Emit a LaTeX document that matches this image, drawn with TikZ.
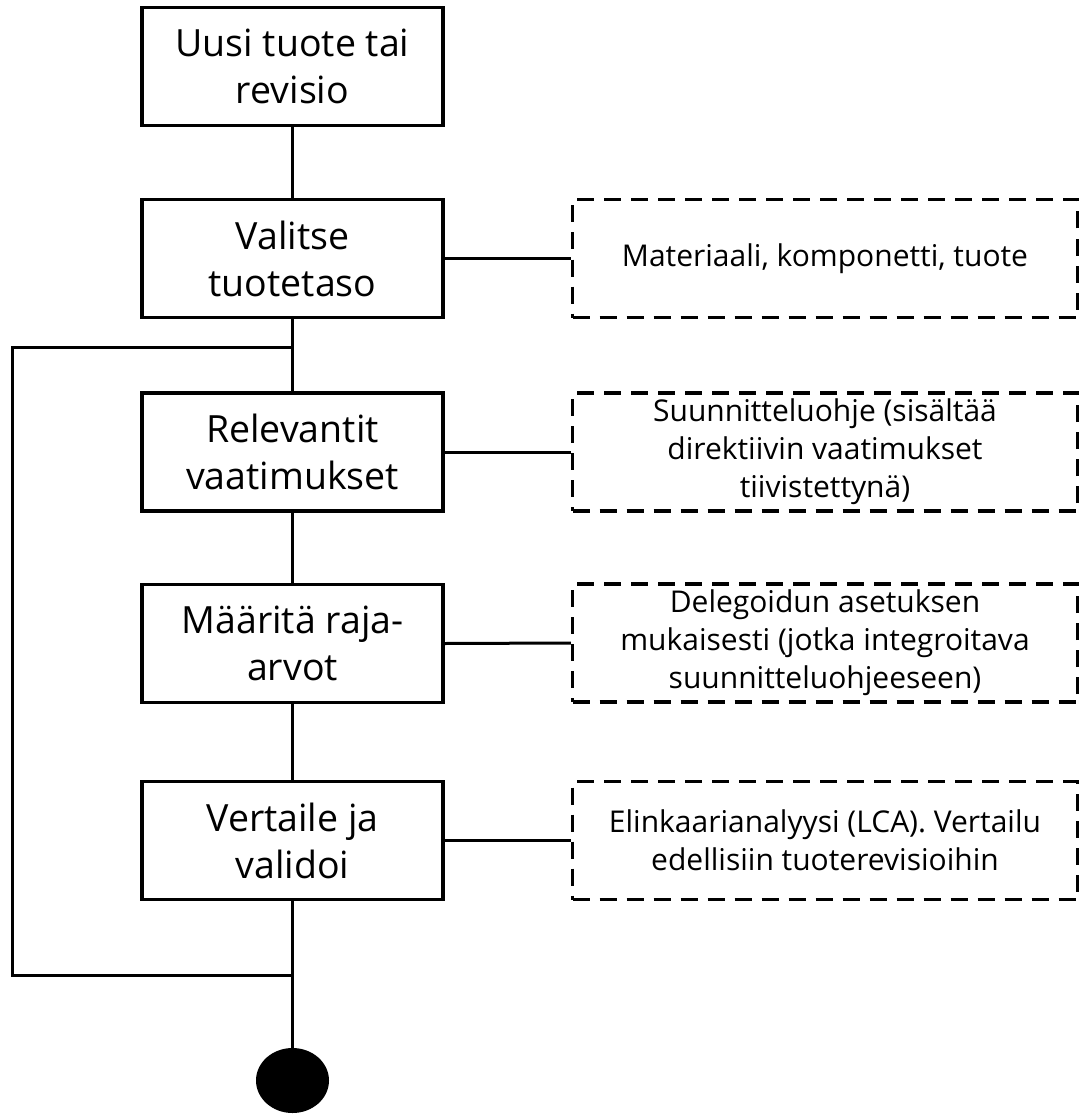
\documentclass[tikz,border=0pt]{standalone}
\usepackage{fontspec}
\setmainfont{Open Sans}
\usetikzlibrary{shapes.geometric}
\begin{document}
\begin{tikzpicture}[x=1pt,y=-1pt,
  stepbox/.style={draw, line width=3.5pt, minimum width=301pt, minimum height=118pt,
    inner sep=0pt, align=center, font=\fontsize{37.5}{47}\selectfont},
  notebox/.style={draw, dash pattern=on 17pt off 10pt, line width=3.5pt,
    minimum width=505pt, minimum height=118pt, inner sep=0pt, align=center,
    font=\fontsize{30}{38}\selectfont},
  link/.style={line width=3pt},
  endpoint/.style={ellipse, fill=black, minimum width=73pt, minimum height=65pt, inner sep=0pt}]
\path[use as bounding box, fill=white] (0,0) rectangle (1080,1115);

% main process steps
\node[stepbox] (s1) at (292.5,66.5) {Uusi tuote tai\\revisio};
\node[stepbox] (s2) at (292.5,258.5) {Valitse\\tuotetaso};
\node[stepbox] (s3) at (292.5,452) {Relevantit\\vaatimukset};
\node[stepbox] (s4) at (292.5,643.5) {Määritä raja-\\arvot};
\node[stepbox] (s5) at (292.5,840.5) {Vertaile ja\\validoi};
\node[endpoint] (e) at (292.5,1080.5) {};

% explanatory notes
\node[notebox] (n1) at (825,258.5) {Materiaali, komponetti, tuote};
\node[notebox] (n2) at (825,452) {Suunnitteluohje (sisältää\\direktiivin vaatimukset\\tiivistettynä)};
\node[notebox] (n3) at (825,643) {Delegoidun asetuksen\\mukaisesti (jotka integroitava\\suunnitteluohjeeseen)};
\node[notebox] (n4) at (825,840.5) {Elinkaarianalyysi (LCA). Vertailu\\edellisiin tuoterevisioihin};

% main flow
\draw[link] (s1) -- (s2);
\draw[link] (s2) -- (s3);
\draw[link] (s3) -- (s4);
\draw[link] (s4) -- (s5);
\draw[link] (s5) -- (e);

% links to notes
\draw[link] (s2.east) -- (n1.west);
\draw[link] (s3.east) -- (n2.west);
\draw[link] (s4.east) -- (n3.west);
\draw[link] (s5.east) -- (n4.west);

% iteration loop
\coordinate (ltop) at (292.5,347);
\coordinate (lbot) at (292.5,975);
\coordinate (cbot) at (12,975);
\coordinate (ctop) at (12,347);
\draw[link] (lbot) -- (cbot) -- (ctop) -- (ltop);
\end{tikzpicture}
\end{document}
